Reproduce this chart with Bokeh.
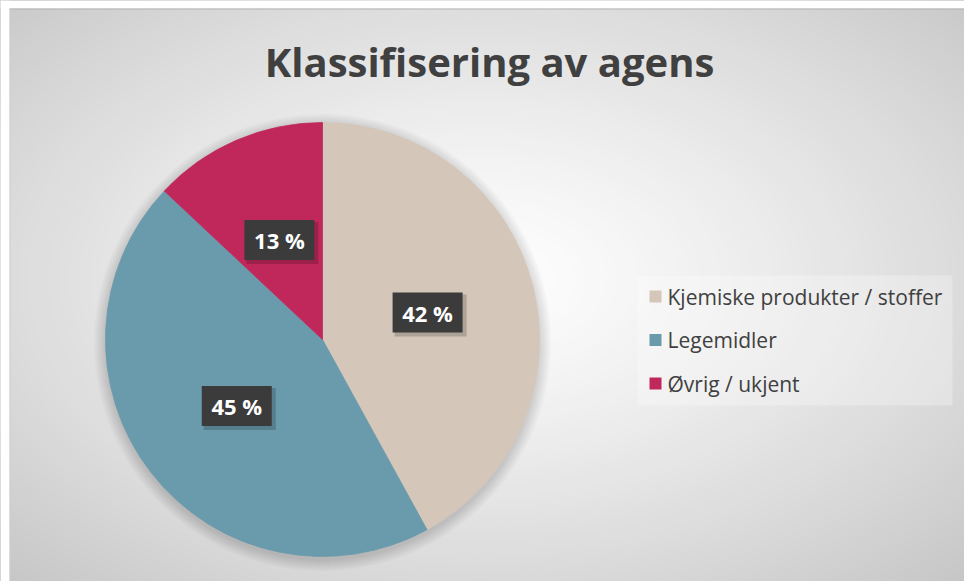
import numpy as np
from bokeh.plotting import figure
from bokeh.models import ColumnDataSource, Range1d
from bokeh.core.properties import value
from bokeh.embed import file_html
from bokeh.resources import INLINE

# ---- data ----
chart_title = "Klassifisering av agens"
categories = ["Kjemiske produkter / stoffer", "Legemidler", "Øvrig / ukjent"]
shares = [42, 45, 13]
colors = ["#D4C6B8", "#6A9BAC", "#C0285C"]

# ---- layout (data units == screen pixels, y measured upward) ----
W, H = 964, 581
CX, CY, R = 322, 242, 217
FONT = value("Open Sans")

p = figure(width=W, height=H, output_backend="svg", toolbar_location=None, tools="",
           x_range=Range1d(0, W), y_range=Range1d(0, H), min_border=0,
           x_axis_type=None, y_axis_type=None)
p.grid.visible = False
p.outline_line_color = None
p.background_fill_color = "#c6c6c6"
p.border_fill_color = "white"

# radial gradient background (decoration)
n = 70
ts = np.linspace(1.0, 0.0, n, endpoint=False)
bg_cols = []
for t in ts:
    v = int(round(254 - 58 * t ** 1.25))
    bg_cols.append("#%02x%02x%02x" % (v, v, v))
p.ellipse(x=482, y=303, width=W * 1.5 * ts, height=H * 1.5 * ts,
          fill_color=bg_cols, line_color=None)

# white page margin around the chart area + border
p.rect(x=[W / 2], y=[H - 4], width=W, height=8, fill_color="white", line_color=None)
p.rect(x=[4.5], y=[H / 2], width=9, height=H, fill_color="white", line_color=None)
p.line(x=[9, W], y=[H - 8.5, H - 8.5], line_color="#b4b4b4", line_width=1)
p.line(x=[9.5, 9.5], y=[0, H - 8], line_color="#d0d0d0", line_width=1)

# soft shadow around pie
for k in range(1, 13):
    p.circle(x=CX, y=CY - 3, radius=R + k, fill_color="black", fill_alpha=0.012,
             line_color=None)

# pie
frac = np.array(shares, dtype=float) / sum(shares)
cum = np.cumsum(frac)
a_start = np.pi / 2 - 2 * np.pi * (cum - frac)
a_end = np.pi / 2 - 2 * np.pi * cum
mid = (a_start + a_end) / 2
src = ColumnDataSource(dict(
    cat=categories, share=shares, color=colors,
    start=a_end, end=a_start,
    lx=CX + 0.5 * R * np.cos(mid), ly=CY + 0.5 * R * np.sin(mid),
    label=[f"{s} %" for s in shares],
))
p.wedge(x=CX, y=CY, radius=R, start_angle="start", end_angle="end",
        direction="anticlock", fill_color="color", line_color="color",
        line_width=0.8, source=src)

# data labels with dark boxes
shadow = ColumnDataSource(dict(x=src.data["lx"] + 3, y=src.data["ly"] - 3))
p.rect(x="x", y="y", width=72, height=42, fill_color="black", fill_alpha=0.18,
       line_color=None, source=shadow)
p.rect(x="lx", y="ly", width=70, height=40, fill_color="#3b3b3b",
       line_color=None, source=src)
p.text(x="lx", y="ly", text="label", text_align="center", text_baseline="middle",
       text_font=FONT, text_font_style="bold", text_font_size="22px",
       text_color="white", source=src)

# title
p.text(x=[489], y=[520], text=[chart_title], text_align="center",
       text_baseline="alphabetic", text_font=FONT, text_font_style="bold",
       text_font_size="40px", text_color="#404040")

# legend
p.rect(x=[794.5], y=[241], width=315, height=130, fill_color="white",
       fill_alpha=0.28, line_color=None)
idx = np.arange(len(categories))
leg = ColumnDataSource(dict(
    cat=categories, color=colors,
    sy=285 - idx * 43.5, sx=np.full(len(categories), 655.0),
    tx=np.full(len(categories), 667.0),
))
p.rect(x="sx", y="sy", width=12, height=12, fill_color="color", line_color=None,
       source=leg)
p.text(x="tx", y="sy", text="cat", text_align="left", text_baseline="middle",
       text_font=FONT, text_font_size="21px", text_color="#404040", source=leg)

open("out.html", "w").write(file_html(p, INLINE))
